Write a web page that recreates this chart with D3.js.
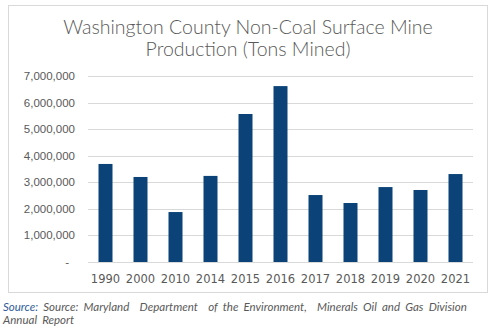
<!DOCTYPE html>
<html lang="en">
<head>
    <meta charset="UTF-8">
    <title>Washington County Non-Coal Surface Mine Production</title>
    <script src="https://d3js.org/d3.v7.min.js"></script>
    <style type="text/css">
        body { margin: 0; background: #fff; }
    </style>
</head>
<body>
<script type="text/javascript">

// Data
var years = ["1990", "2000", "2010", "2014", "2015", "2016", "2017", "2018", "2019", "2020", "2021"];
var tons = [3690000, 3200000, 1880000, 3240000, 5570000, 6620000, 2520000, 2220000, 2820000, 2710000, 3310000];
var yTicks = [0, 1000000, 2000000, 3000000, 4000000, 5000000, 6000000, 7000000];
var titleLines = ["Washington County Non-Coal Surface Mine", "Production (Tons Mined)"];

var w = 501, h = 336;
var plotLeft = 88, plotRight = 473, plotTop = 76, plotBottom = 262;

var svg = d3.select("body").append("svg")
    .attr("width", w)
    .attr("height", h);

// chart frame
svg.append("rect")
    .attr("x", 8.5).attr("y", 5.5)
    .attr("width", 479).attr("height", 287)
    .attr("fill", "#fff")
    .attr("stroke", "#d9d9d9");

// title
svg.selectAll("text.title")
    .data(titleLines)
    .enter()
    .append("text")
    .attr("class", "title")
    .attr("x", 248)
    .attr("y", function(d, i) { return 34 + i * 22; })
    .attr("text-anchor", "middle")
    .attr("font-family", "Lato")
    .attr("font-weight", 300)
    .attr("font-size", "19.5px")
    .attr("fill", "#595959")
    .text(function(d) { return d; });

// scales
var xScale = d3.scaleBand()
    .domain(years)
    .range([plotLeft, plotRight])
    .paddingInner(0.6)
    .paddingOuter(0.3);

var yScale = d3.scaleLinear()
    .domain([0, 7000000])
    .range([plotBottom, plotTop]);

// gridlines
svg.selectAll("line.grid")
    .data(yTicks)
    .enter()
    .append("line")
    .attr("class", "grid")
    .attr("x1", plotLeft)
    .attr("x2", plotRight)
    .attr("y1", function(d) { return Math.round(yScale(d)) + 0.5; })
    .attr("y2", function(d) { return Math.round(yScale(d)) + 0.5; })
    .attr("stroke", "#d9d9d9");

// y axis labels
var fmt = d3.format(",");
svg.selectAll("text.ylab")
    .data(yTicks)
    .enter()
    .append("text")
    .attr("class", "ylab")
    .attr("x", function(d) { return d === 0 ? 69 : 75; })
    .attr("y", function(d) { return yScale(d) + 4; })
    .attr("text-anchor", "end")
    .attr("font-family", "Liberation Sans")
    .attr("font-size", "11.5px")
    .attr("fill", "#595959")
    .text(function(d) { return d === 0 ? "-" : fmt(d); });

// bars
svg.selectAll("rect.bar")
    .data(tons)
    .enter()
    .append("rect")
    .attr("class", "bar")
    .attr("x", function(d, i) { return xScale(years[i]); })
    .attr("y", function(d) { return yScale(d); })
    .attr("width", xScale.bandwidth())
    .attr("height", function(d) { return plotBottom - yScale(d); })
    .attr("fill", "#0b4277");

// x labels
svg.selectAll("text.xlab")
    .data(years)
    .enter()
    .append("text")
    .attr("class", "xlab")
    .attr("x", function(d) { return xScale(d) + xScale.bandwidth() / 2; })
    .attr("y", 283)
    .attr("text-anchor", "middle")
    .attr("font-family", "DejaVu Sans")
    .attr("font-size", "11.5px")
    .attr("fill", "#595959")
    .text(function(d) { return d; });

// source note
var src = svg.append("text")
    .attr("x", 3)
    .attr("y", 311)
    .attr("font-family", "Lato")
    .attr("font-style", "italic")
    .attr("font-size", "11.5px")
    .attr("word-spacing", "2.5px")
    .attr("fill", "#595959");
src.append("tspan").attr("fill", "#2e5c99").text("Source: ");
src.append("tspan").attr("xml:space", "preserve")
    .text("Source: Maryland  Department  of the Environment,  Minerals Oil and Gas Division");
svg.append("text")
    .attr("x", 3)
    .attr("y", 324)
    .attr("font-family", "Lato")
    .attr("font-style", "italic")
    .attr("font-size", "11.5px")
    .attr("word-spacing", "2.5px")
    .attr("fill", "#595959")
    .text("Annual  Report");

</script>
</body>
</html>
